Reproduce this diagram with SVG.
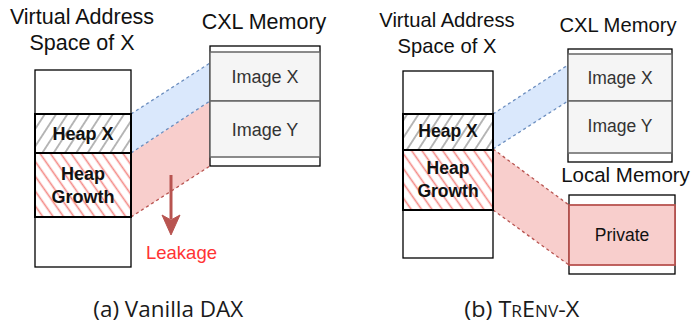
<svg xmlns="http://www.w3.org/2000/svg" width="692" height="328" viewBox="0 0 692 328">
<style>
.t{font-family:"Liberation Sans",Arial,sans-serif;fill:#111;text-anchor:middle}
.b{font-weight:bold}
.img{fill:#333}
.cap{font-family:"Open Sans","DejaVu Sans",sans-serif;fill:#1a1a1a;text-anchor:middle;font-size:21px}
.outer{fill:#fff;stroke:#000;stroke-width:1.3}
.heap{stroke:#000;stroke-width:2}
.mem{fill:#f5f5f5;stroke:#666;stroke-width:1.5}
.bl{fill:#dae8fc;stroke:none}
.rd{fill:#f8cecc;stroke:none}
.bd{fill:none;stroke:#6c8ebf;stroke-width:1.3;stroke-dasharray:3 3}
.rdd{fill:none;stroke:#b85450;stroke-width:1.3;stroke-dasharray:3 3}
</style>
<defs>
<pattern id="hg" patternUnits="userSpaceOnUse" width="9.5" height="9.5" patternTransform="rotate(33)">
<rect width="9.5" height="9.5" fill="#fff"/>
<line x1="4.75" y1="0" x2="4.75" y2="9.5" stroke="#9a9a9a" stroke-width="1.4"/>
</pattern>
<pattern id="hr" patternUnits="userSpaceOnUse" width="8.5" height="8.5" patternTransform="rotate(-35)">
<rect width="8.5" height="8.5" fill="#fff"/>
<line x1="4.25" y1="0" x2="4.25" y2="8.5" stroke="#f48a86" stroke-width="1.6"/>
</pattern>
</defs>

<g id="connectors">
<polygon class="rd" points="131,153 210,101 210,166 131,217"/>
<polygon class="bl" points="131,114 210,63 210,101 131,153"/>
<line class="rdd" x1="131" y1="217" x2="210" y2="166"/>
<line class="bd" x1="131" y1="114" x2="210" y2="63"/>
<line class="bd" x1="131" y1="153" x2="210" y2="101"/>
<polygon class="bl" points="493,114 568,65 568,101 493,149"/>
<polygon class="rd" points="493,149 569,205 569,265 493,210"/>
<line class="bd" x1="493" y1="114" x2="568" y2="65"/>
<line class="bd" x1="493" y1="149" x2="568" y2="101"/>
<line class="rdd" x1="493" y1="149" x2="569" y2="205"/>
<line class="rdd" x1="493" y1="210" x2="569" y2="265"/>
<line x1="171" y1="175" x2="171" y2="219" stroke="#b85450" stroke-width="3"/>
<polygon points="162,215 171,220 180,215 171,235" fill="#b85450" stroke="#b85450" stroke-width="1"/>
</g>

<g id="va-title-a">
<text class="t" x="82" y="23.5" font-size="21.5">Virtual Address</text>
<text class="t" x="82" y="50" font-size="21.5">Space of X</text>
</g>
<g id="va-box-a">
<rect class="outer" x="35" y="70" width="96" height="197"/>
</g>
<g id="heapx-a">
<rect class="heap" x="35" y="114" width="96" height="39" fill="url(#hg)"/>
<text class="t b" x="83" y="140" font-size="18">Heap X</text>
</g>
<g id="heapg-a">
<rect class="heap" x="35" y="153" width="96" height="64" fill="url(#hr)"/>
<text class="t b" x="83" y="180" font-size="18">Heap</text>
<text class="t b" x="83" y="203" font-size="18">Growth</text>
</g>
<g id="cxl-a">
<text class="t" x="264" y="29" font-size="21.5">CXL Memory</text>
<rect class="outer" x="210" y="46" width="110" height="120"/>
<rect class="mem" x="210" y="52" width="110" height="49"/>
<rect class="mem" x="210" y="101" width="110" height="56"/>
<text class="t img" x="265" y="83.3" font-size="18">Image X</text>
<text class="t img" x="265" y="135.5" font-size="18">Image Y</text>
</g>
<g id="leakage">
<text class="t" x="181.5" y="259.3" font-size="18.5" style="fill:#ff3333">Leakage</text>
</g>
<g id="caption-a">
<text class="cap" x="168.3" y="317" textLength="150" lengthAdjust="spacingAndGlyphs">(a) Vanilla DAX</text>
</g>

<g id="va-title-b">
<text class="t" x="447" y="27.3" font-size="20.2">Virtual Address</text>
<text class="t" x="447" y="53.3" font-size="20.2">Space of X</text>
</g>
<g id="va-box-b">
<rect class="outer" x="403" y="71" width="90" height="187"/>
</g>
<g id="heapx-b">
<rect class="heap" x="403" y="114" width="90" height="36" fill="url(#hg)"/>
<text class="t b" x="448" y="136.5" font-size="17.5">Heap X</text>
</g>
<g id="heapg-b">
<rect class="heap" x="403" y="150" width="90" height="60" fill="url(#hr)"/>
<text class="t b" x="448" y="174" font-size="17.5">Heap</text>
<text class="t b" x="448" y="197" font-size="17.5">Growth</text>
</g>
<g id="cxl-b">
<text class="t" x="618" y="31.5" font-size="20.2">CXL Memory</text>
<rect class="outer" x="568" y="49" width="104" height="113"/>
<rect class="mem" x="568" y="54" width="104" height="47"/>
<rect class="mem" x="568" y="101" width="104" height="52"/>
<text class="t img" x="620" y="83.5" font-size="17.5">Image X</text>
<text class="t img" x="620" y="132" font-size="17.5">Image Y</text>
</g>
<g id="local-b">
<text class="t" x="625.5" y="182.3" font-size="20.5">Local Memory</text>
<rect class="outer" x="569" y="195" width="106" height="79"/>
<rect x="569" y="205" width="106" height="60" fill="#f8cecc" stroke="#b85450" stroke-width="1.8"/>
<text class="t" x="622" y="240.7" font-size="17.5">Private</text>
</g>
<g id="caption-b">
<text class="cap" x="521.8" y="317" textLength="115" lengthAdjust="spacingAndGlyphs">(b) T<tspan font-size="15.5">R</tspan>E<tspan font-size="15.5">NV</tspan>-X</text>
</g>
</svg>
